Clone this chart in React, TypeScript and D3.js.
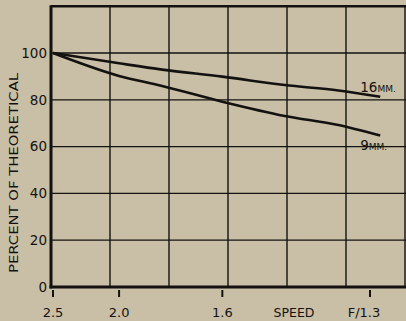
import React from "react";
import * as d3 from "d3";

// f-numbers along the speed axis (plotted linearly in 1/f², i.e. relative light)
const fNumbers = [2.5, 2.0, 1.8, 1.6, 1.45, 1.35, 1.285];
const series16mm = [100, 95.6, 92.9, 89.9, 86.3, 84.0, 81.3];
const series9mm = [100, 90.2, 85.9, 79.2, 73.1, 69.2, 64.7];
const yTicks = [0, 20, 40, 60, 80, 100];
const yGrid = [20, 40, 60, 80, 100, 120];
const xTickF = [2.5, 2.0, 1.6, 1.3];
const xTickLabels = ["2.5", "2.0", "1.6", "F/1.3"];
const seriesLabels = ["16", "9"];

const W = 406;
const H = 321;
const BG = "#c9bfa6";
const INK = "#141210";

export default function App() {
  const x = d3
    .scaleLinear()
    .domain([1 / (2.5 * 2.5), 1 / (1.3 * 1.3)])
    .range([53, 370]);
  const y = d3.scaleLinear().domain([0, 100]).range([287, 53]);
  const plotLeft = 51;
  const plotRight = W;
  const gridStep = 59;
  const xGrid = d3.range(1, 7).map((i) => x.invert(plotLeft + i * gridStep));

  const line = d3
    .line<[number, number]>()
    .x((d) => x(1 / (d[0] * d[0])))
    .y((d) => y(d[1]))
    .curve(d3.curveMonotoneX);

  const pts16 = fNumbers.map((f, i) => [f, series16mm[i]] as [number, number]);
  const pts9 = fNumbers.map((f, i) => [f, series9mm[i]] as [number, number]);
  const font = "'DejaVu Sans', 'Liberation Sans', Arial, sans-serif";
  const lastF = fNumbers[fNumbers.length - 1];

  return (
    <svg
      width={W}
      height={H}
      style={{ position: "absolute", left: 0, top: 0, background: BG }}
      fontFamily={font}
    >
      <rect x={0} y={0} width={W} height={H} fill={BG} />
      {/* horizontal grid */}
      {yGrid.map((v) => (
        <line
          key={"h" + v}
          x1={plotLeft}
          x2={plotRight}
          y1={y(v)}
          y2={y(v)}
          stroke={INK}
          strokeWidth={v === 120 ? 2.5 : 1.3}
        />
      ))}
      {/* vertical grid */}
      {xGrid.map((u, i) => (
        <line
          key={"v" + i}
          x1={x(u)}
          x2={x(u)}
          y1={y(120)}
          y2={y(0)}
          stroke={INK}
          strokeWidth={1.4}
        />
      ))}
      {/* axes */}
      <line x1={plotLeft} x2={plotLeft} y1={y(120) - 1} y2={y(0) + 1.5} stroke={INK} strokeWidth={3} />
      <line x1={plotLeft - 1.5} x2={plotRight} y1={y(0)} y2={y(0)} stroke={INK} strokeWidth={3} />
      {/* y tick labels */}
      {yTicks.map((v) => (
        <text
          key={"yt" + v}
          x={47}
          y={y(v)}
          dy="0.36em"
          textAnchor="end"
          fontSize={13.5}
          fill={INK}
        >
          {v}
        </text>
      ))}
      {/* x ticks */}
      {xTickF.map((f, i) => {
        const px = x(1 / (f * f));
        return (
          <g key={"xt" + i}>
            <line x1={px} x2={px} y1={290} y2={297} stroke={INK} strokeWidth={2} />
            <text
              x={i === xTickF.length - 1 ? px - 6 : px}
              y={317}
              textAnchor="middle"
              fontSize={13}
              fill={INK}
            >
              {xTickLabels[i]}
            </text>
          </g>
        );
      })}
      <text x={294} y={317} textAnchor="middle" fontSize={12.5} fill={INK}>
        SPEED
      </text>
      {/* y axis title */}
      <text
        transform={`translate(18,${173}) rotate(-90)`}
        textAnchor="middle"
        fontSize={12.5}
        fill={INK}
        textLength={200}
        lengthAdjust="spacingAndGlyphs"
      >
        PERCENT OF THEORETICAL
      </text>
      {/* series */}
      <path d={line(pts16) || ""} fill="none" stroke={INK} strokeWidth={2.6} />
      <path d={line(pts9) || ""} fill="none" stroke={INK} strokeWidth={2.6} />
      {/* series labels */}
      <text x={x(1 / (lastF * lastF)) - 20} y={y(series16mm[6]) - 5} fontSize={13.5} fill={INK}>
        {seriesLabels[0]}
        <tspan fontSize={9}>MM.</tspan>
      </text>
      <text x={x(1 / (lastF * lastF)) - 20} y={y(series9mm[6]) + 14} fontSize={13.5} fill={INK}>
        {seriesLabels[1]}
        <tspan fontSize={9}>MM.</tspan>
      </text>
    </svg>
  );
}
